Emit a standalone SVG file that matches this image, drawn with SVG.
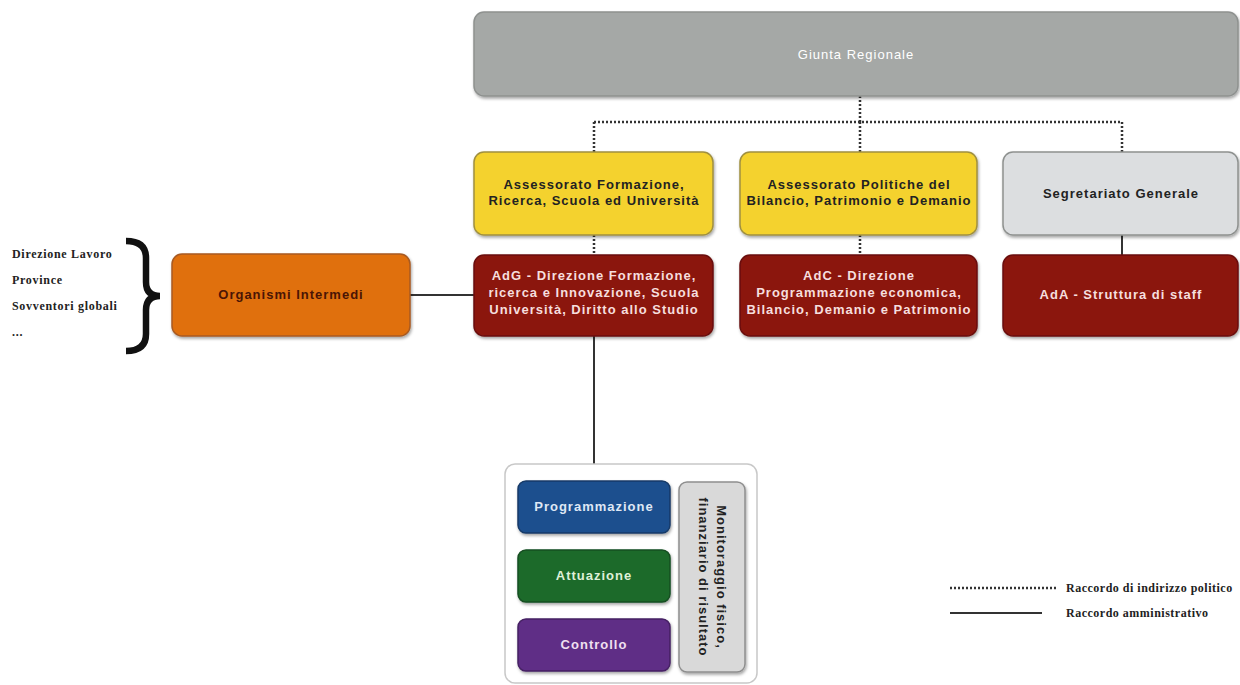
<svg xmlns="http://www.w3.org/2000/svg" width="1240" height="685" viewBox="0 0 1240 685">
<defs>
<filter id="sh" x="-10%" y="-10%" width="120%" height="130%">
<feDropShadow dx="1" dy="2" stdDeviation="1.5" flood-color="#000" flood-opacity="0.35"/>
</filter>
</defs>
<style>
.t{font-family:"Liberation Sans",Arial,sans-serif;font-size:13px;font-weight:bold;text-anchor:middle;letter-spacing:1px}
.box{stroke-width:1.5;filter:url(#sh)}
.dot{stroke:#333;stroke-width:2.5;stroke-dasharray:2 2;fill:none}
.sol{stroke:#333;stroke-width:2;fill:none}
.side{font-family:"Liberation Serif","Times New Roman",serif;font-size:12px;font-weight:bold;fill:#222;letter-spacing:0.7px}
.leg{font-family:"Liberation Serif","Times New Roman",serif;font-size:12px;font-weight:bold;fill:#222;letter-spacing:0.5px}
</style>
<rect width="1240" height="685" fill="#fff"/>
<g id="connectors">
<path class="dot" d="M860 96 V122 M594 122 H1122 M594 122 V152 M860 122 V152 M1122 122 V152"/>
<path class="dot" d="M594 235 V255 M860 235 V255"/>
<path class="sol" d="M1122 235 V255"/>
<path class="sol" d="M410 295 H474"/>
<path class="sol" d="M594 336 V464"/>
</g>
<g id="giunta">
<rect class="box" x="474" y="12" width="764" height="84" rx="10" fill="#a5a8a6" stroke="#8e918f"/>
<text class="t" x="856" y="59" fill="#fff" style="font-weight:normal">Giunta Regionale</text>
</g>
<g id="ass1">
<rect class="box" x="474" y="152" width="239" height="83" rx="10" fill="#f4d22e" stroke="#a09040"/>
<text class="t" x="594" y="189" fill="#222">Assessorato Formazione,</text>
<text class="t" x="594" y="205" fill="#222">Ricerca, Scuola ed Università</text>
</g>
<g id="ass2">
<rect class="box" x="740" y="152" width="237" height="83" rx="10" fill="#f4d22e" stroke="#a09040"/>
<text class="t" x="859" y="189" fill="#222">Assessorato Politiche del</text>
<text class="t" x="859" y="205" fill="#222">Bilancio, Patrimonio e Demanio</text>
</g>
<g id="segr">
<rect class="box" x="1003" y="152" width="235" height="83" rx="10" fill="#dcdee0" stroke="#8e918f"/>
<text class="t" x="1121" y="198" fill="#222">Segretariato Generale</text>
</g>
<g id="adg">
<rect class="box" x="474" y="255" width="239" height="81" rx="10" fill="#8b1510" stroke="#6a100c"/>
<text class="t" x="594" y="280" fill="#f6dede">AdG  - Direzione Formazione,</text>
<text class="t" x="594" y="297" fill="#f6dede">ricerca e Innovazione, Scuola</text>
<text class="t" x="594" y="314" fill="#f6dede">Università, Diritto allo Studio</text>
</g>
<g id="adc">
<rect class="box" x="740" y="255" width="237" height="81" rx="10" fill="#8b1510" stroke="#6a100c"/>
<text class="t" x="859" y="280" fill="#f6dede">AdC  - Direzione</text>
<text class="t" x="859" y="297" fill="#f6dede">Programmazione economica,</text>
<text class="t" x="859" y="314" fill="#f6dede">Bilancio, Demanio e Patrimonio</text>
</g>
<g id="ada">
<rect class="box" x="1003" y="255" width="235" height="81" rx="10" fill="#8b1510" stroke="#6a100c"/>
<text class="t" x="1121" y="299" fill="#f6dede">AdA  - Struttura di staff</text>
</g>
<g id="organismi">
<rect class="box" x="172" y="254" width="238" height="82" rx="10" fill="#e0700f" stroke="#a85a20"/>
<text class="t" x="291" y="299" fill="#4a1505">Organismi Intermedi</text>
</g>
<g id="elenco">
<text class="side" x="12" y="258">Direzione Lavoro</text>
<text class="side" x="12" y="284">Province</text>
<text class="side" x="12" y="310">Sovventori globali</text>
<text class="side" x="12" y="336">...</text>
<path d="M126 241 Q146 241 146 258 V282 Q146 296 160 296 Q146 296 146 310 V334 Q146 351 126 351" fill="none" stroke="#111" stroke-width="6.5"/>
</g>
<g id="processi">
<rect x="505" y="464" width="252" height="219" rx="10" fill="#fff" stroke="#c8c8c8" stroke-width="1.5"/>
<g id="programmazione">
<rect class="box" x="518" y="481" width="152" height="52" rx="8" fill="#1f4f8e" stroke="#173a68"/>
<text class="t" x="594" y="511" fill="#dfe8f5">Programmazione</text>
</g>
<g id="attuazione">
<rect class="box" x="518" y="550" width="152" height="52" rx="8" fill="#1d6a2b" stroke="#154d20"/>
<text class="t" x="594" y="580" fill="#dff0d8">Attuazione</text>
</g>
<g id="controllo">
<rect class="box" x="518" y="619" width="152" height="52" rx="8" fill="#5f2d86" stroke="#452063"/>
<text class="t" x="594" y="649" fill="#f0e0f0">Controllo</text>
</g>
<g id="monitoraggio">
<rect class="box" x="679" y="482" width="66" height="190" rx="8" fill="#d9d9d9" stroke="#8e8e8e"/>
<text class="t" transform="translate(717 577) rotate(90)" fill="#222">Monitoraggio fisico,</text>
<text class="t" transform="translate(699 577) rotate(90)" fill="#222">finanziario di risultato</text>
</g>
</g>
<g id="legenda">
<path class="dot" d="M950 588 H1056" stroke-width="2.5"/>
<text class="leg" x="1066" y="592">Raccordo di indirizzo politico</text>
<path class="sol" d="M950 613 H1042" stroke-width="2.5"/>
<text class="leg" x="1066" y="617">Raccordo amministrativo</text>
</g>
</svg>
